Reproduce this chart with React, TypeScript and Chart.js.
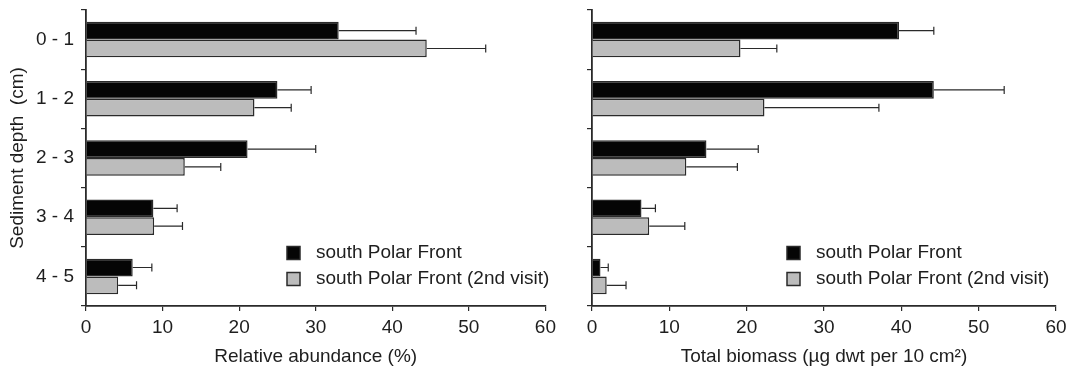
import React, { useEffect, useRef } from "react";
import { Chart, registerables } from "chart.js";

Chart.register(...registerables);

// ---- data ----
const categories = ["0 - 1", "1 - 2", "2 - 3", "3 - 4", "4 - 5"];
const seriesNames = ["south Polar Front", "south Polar Front (2nd visit)"];

const abundanceFirst = [33.0, 25.0, 21.1, 8.8, 6.1];
const abundanceFirstSd = [10.1, 4.4, 8.9, 3.1, 2.5];
const abundanceSecond = [44.5, 22.0, 12.9, 8.9, 4.2];
const abundanceSecondSd = [7.7, 4.8, 4.7, 3.7, 2.4];

const biomassFirst = [39.7, 44.2, 14.8, 6.4, 1.1];
const biomassFirstSd = [4.5, 9.1, 6.7, 1.8, 1.0];
const biomassSecond = [19.2, 22.3, 12.2, 7.4, 1.9];
const biomassSecondSd = [4.7, 14.8, 6.6, 4.6, 2.5];

const xMin = 0;
const xMax = 60;
const xStep = 10;

const FONT = "'Liberation Sans', Arial, Helvetica, sans-serif";
const FS = 19;
const TEXT = "#1e1e1e";
const LINE = "#2a2a2a";
const BLACK = "#050505";
const GREY = "#bcbcbc";

const errorBarsPlugin = {
  id: "errorBars",
  afterDatasetsDraw(chart: any, _args: any, opts: any) {
    const sds: number[][] = opts.sds || [];
    const xs = chart.scales.x;
    const ctx = chart.ctx;
    ctx.save();
    ctx.strokeStyle = opts.color || LINE;
    ctx.lineWidth = 1.2;
    chart.data.datasets.forEach((ds: any, i: number) => {
      const meta = chart.getDatasetMeta(i);
      meta.data.forEach((el: any, j: number) => {
        const sd = sds[i] ? sds[i][j] : 0;
        if (!sd) return;
        const end = xs.getPixelForValue(ds.data[j] + sd);
        const y = el.y;
        ctx.beginPath();
        ctx.moveTo(el.x, y);
        ctx.lineTo(end, y);
        ctx.moveTo(end, y - 4);
        ctx.lineTo(end, y + 4);
        ctx.stroke();
      });
    });
    ctx.restore();
  },
};

const boxLegendPlugin = {
  id: "boxLegend",
  afterDraw(chart: any, _args: any, opts: any) {
    const ctx = chart.ctx;
    const x = opts.x;
    let y = opts.y;
    ctx.save();
    ctx.font = `${FS}px ${FONT}`;
    ctx.textBaseline = "middle";
    ctx.textAlign = "left";
    chart.data.datasets.forEach((ds: any) => {
      ctx.fillStyle = ds.backgroundColor;
      ctx.fillRect(x, y - 6.5, 13, 13);
      ctx.strokeStyle = LINE;
      ctx.lineWidth = 1.5;
      ctx.strokeRect(x, y - 6.5, 13, 13);
      ctx.fillStyle = TEXT;
      ctx.fillText(ds.label, x + 29, y);
      y += 26;
    });
    ctx.restore();
  },
};

function makeConfig(
  first: number[],
  firstSd: number[],
  second: number[],
  secondSd: number[],
  xTitle: string,
  showY: boolean,
  yWidth: number,
  padRight: number,
  legendX: number
): any {
  return {
    type: "bar",
    data: {
      labels: categories,
      datasets: [
        {
          label: seriesNames[0],
          data: first,
          backgroundColor: BLACK,
          borderColor: LINE,
          borderWidth: 1.5,
          categoryPercentage: 0.6,
          barPercentage: 1.0,
        },
        {
          label: seriesNames[1],
          data: second,
          backgroundColor: GREY,
          borderColor: LINE,
          borderWidth: 1.5,
          categoryPercentage: 0.6,
          barPercentage: 1.0,
        },
      ],
    },
    options: {
      indexAxis: "y",
      responsive: false,
      animation: false,
      layout: { padding: { left: 0, right: padRight, top: 10, bottom: 0 } },
      plugins: {
        legend: { display: false },
        tooltip: { enabled: false },
        errorBars: { sds: [firstSd, secondSd], color: LINE },
        boxLegend: { x: legendX, y: 253 },
      },
      scales: {
        x: {
          type: "linear",
          min: xMin,
          max: xMax,
          ticks: {
            stepSize: xStep,
            color: TEXT,
            font: { family: FONT, size: FS },
            padding: 5,
          },
          grid: {
            drawOnChartArea: false,
            drawTicks: true,
            tickLength: 5,
            color: LINE,
            lineWidth: 1.2,
          },
          border: { display: true, color: LINE, width: 1.8 },
          title: {
            display: true,
            text: xTitle,
            color: TEXT,
            font: { family: FONT, size: FS },
            padding: { top: 0, bottom: 0 },
          },
          afterFit: (scale: any) => {
            scale.height = 62;
          },
        },
        y: {
          type: "category",
          offset: true,
          ticks: {
            color: TEXT,
            font: { family: FONT, size: FS },
            padding: 7,
            callback: function (this: any, v: any) {
              return showY ? this.getLabelForValue(v) : "";
            },
          },
          grid: {
            offset: true,
            drawOnChartArea: false,
            drawTicks: true,
            tickLength: 5,
            color: LINE,
            lineWidth: 1.2,
          },
          border: { display: true, color: LINE, width: 1.8 },
          title: {
            display: showY,
            text: "Sediment depth  (cm)",
            color: TEXT,
            font: { family: FONT, size: FS },
            padding: { top: 6, bottom: 0 },
          },
          afterFit: (scale: any) => {
            scale.width = yWidth;
            scale.paddingTop = 0;
            scale.paddingBottom = 0;
          },
        },
      },
    },
    plugins: [errorBarsPlugin, boxLegendPlugin],
  };
}

export default function App() {
  const leftRef = useRef<HTMLCanvasElement | null>(null);
  const rightRef = useRef<HTMLCanvasElement | null>(null);

  useEffect(() => {
    const left = new Chart(
      leftRef.current as HTMLCanvasElement,
      makeConfig(
        abundanceFirst,
        abundanceFirstSd,
        abundanceSecond,
        abundanceSecondSd,
        "Relative abundance (%)",
        true,
        86,
        10,
        287
      )
    );
    const right = new Chart(
      rightRef.current as HTMLCanvasElement,
      makeConfig(
        biomassFirst,
        biomassFirstSd,
        biomassSecond,
        biomassSecondSd,
        "Total biomass (µg dwt per 10 cm²)",
        false,
        32,
        22,
        227
      )
    );
    return () => {
      left.destroy();
      right.destroy();
    };
  }, []);

  return (
    <div
      style={{
        position: "absolute",
        left: 0,
        top: 0,
        width: 1078,
        height: 368,
        background: "#fff",
        overflow: "hidden",
      }}
    >
      <canvas
        ref={leftRef}
        width={561}
        height={368}
        style={{ position: "absolute", left: 0, top: 0, width: 561, height: 368 }}
      />
      <canvas
        ref={rightRef}
        width={518}
        height={368}
        style={{ position: "absolute", left: 560, top: 0, width: 518, height: 368 }}
      />
    </div>
  );
}
